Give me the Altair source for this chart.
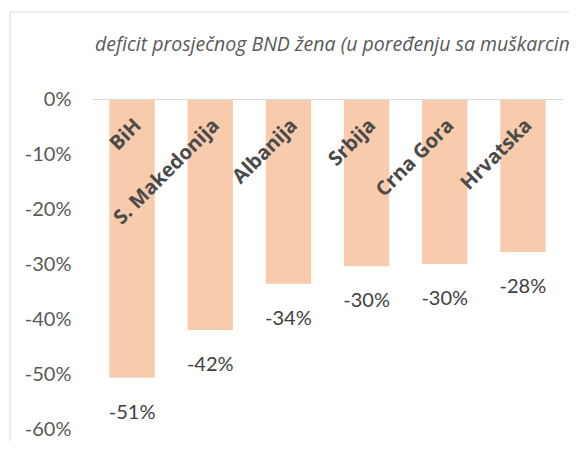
import altair as alt
import pandas as pd

countries = ["BiH", "S. Makedonija", "Albanija", "Srbija", "Crna Gora", "Hrvatska"]
deficit = [-0.507, -0.42, -0.336, -0.304, -0.300, -0.278]
y_ticks = [0, -0.1, -0.2, -0.3, -0.4, -0.5, -0.6]
subtitle = "deficit prosječnog BND žena (u poređenju sa muškarcima)"

FONT = "Lato"
BAR = "#F8CBAD"
GRID = "#d9d9d9"

df = pd.DataFrame({"zemlja": countries, "deficit": deficit})

x = alt.X(
    "zemlja:N", sort=countries,
    scale=alt.Scale(paddingInner=0.42, paddingOuter=0.21),
    axis=alt.Axis(
        orient="top", title=None, domain=True, domainColor=GRID, domainWidth=1,
        ticks=False, labelAngle=315, labelAlign="right", labelBaseline="middle",
        labelPadding=-23, labelOffset=6, labelFont="Open Sans", labelFontSize=20,
        labelFontWeight="bold", labelColor="#4a4a4a", labelOverlap=False,
        labelBound=False, labelLimit=0, labelFlush=False, zindex=1,
    ),
)
y = alt.Y(
    "deficit:Q",
    scale=alt.Scale(domain=[-0.6, 0], nice=False),
    axis=alt.Axis(
        values=y_ticks, title=None, grid=False, domain=False, ticks=False,
        labelExpr="replace(format(datum.value, '.0%'), '\u2212', '-')",
        labelPadding=22, labelFont=FONT, labelFontSize=20, labelColor="#595959",
    ),
)

base = alt.Chart(df).transform_calculate(
    lbl="replace(format(datum.deficit, '.0%'), '\u2212', '-')"
)
bars = base.mark_bar(color=BAR).encode(x=x, y=y)
labels = base.mark_text(
    dy=35, baseline="middle", align="center", font=FONT, fontSize=20, color="#404040"
).encode(x=x, y=y, text="lbl:N")

frame = alt.Chart(pd.DataFrame({"f": [0]})).mark_rect(
    fill="transparent", stroke=GRID, strokeWidth=1
).encode(x=alt.value(-83), x2=alt.value(620), y=alt.value(-87), y2=alt.value(500))

sub = alt.Chart(pd.DataFrame({"t": [subtitle]})).mark_text(
    align="left", baseline="middle", font="Open Sans", fontSize=19.5, fontStyle="italic",
    color="#595959",
).encode(x=alt.value(2), y=alt.value(-54), text="t:N")

chart = alt.layer(frame, bars, labels, sub).properties(
    width=469, height=330,
    autosize=alt.AutoSizeParams(type="none"),
    padding={"left": 85, "top": 91, "right": 7, "bottom": 12},
).configure_view(stroke=None)

chart.save("out.html", embed_options={"renderer": "svg", "actions": False})
